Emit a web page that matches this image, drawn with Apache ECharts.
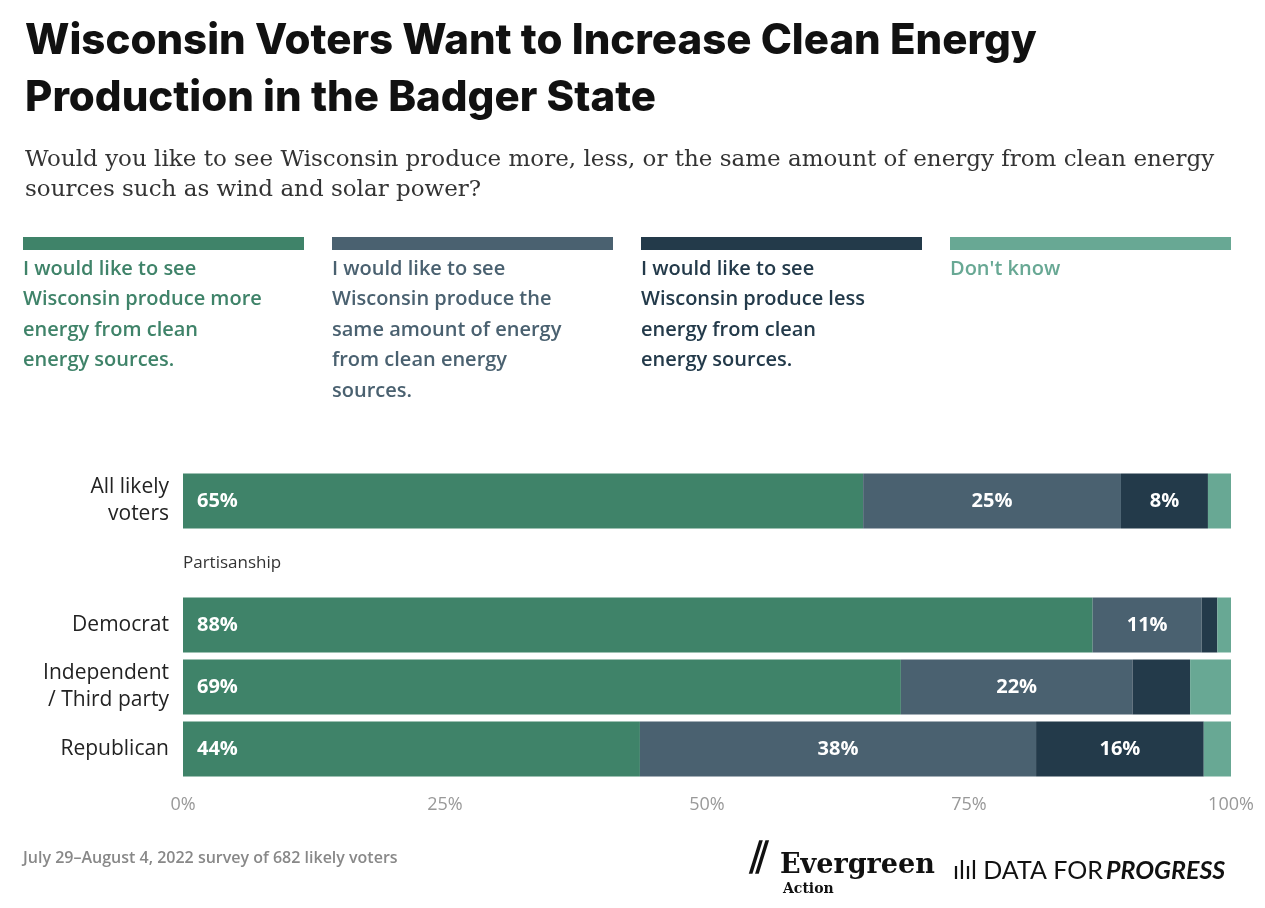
<!DOCTYPE html>
<html>
<head>
<meta charset="utf-8">
<script src="https://cdn.jsdelivr.net/npm/echarts@6/dist/echarts.min.js"></script>
<style>
  html, body { margin: 0; padding: 0; background: #fff; }
  #chart { width: 1265px; height: 908px; }
</style>
</head>
<body>
<div id="chart"></div>
<script>
// data
const categories = ["All likely\nvoters", "", "Democrat", "Independent\n/ Third party", "Republican"];
const seriesNames = [
  "I would like to see\nWisconsin produce more\nenergy from clean\nenergy sources.",
  "I would like to see\nWisconsin produce the\nsame amount of energy\nfrom clean energy\nsources.",
  "I would like to see\nWisconsin produce less\nenergy from clean\nenergy sources.",
  "Don't know"
];
const more = [64.9, null, 86.8, 68.5, 43.6];
const same = [24.6, null, 10.4, 22.1, 37.8];
const less = [8.3, null, 1.5, 5.5, 16.0];
const dontKnow = [2.2, null, 1.3, 3.9, 2.6];
const moreLabels = ["65%", "", "88%", "69%", "44%"];
const sameLabels = ["25%", "", "11%", "22%", "38%"];
const lessLabels = ["8%", "", "", "", "16%"];

const colors = ["#3f8369", "#4a6170", "#233a4a", "#68a894"];
const values = [more, same, less, dontKnow];
const labels = [moreLabels, sameLabels, lessLabels, null];

const font = "'Open Sans', Lato, sans-serif";
const chart = echarts.init(document.getElementById("chart"));

const series = values.map((arr, i) => ({
  name: seriesNames[i],
  type: "bar",
  stack: "total",
  barWidth: 55,
  data: arr,
  itemStyle: { color: colors[i] },
  label: {
    show: !!labels[i],
    position: i === 0 ? "insideLeft" : "inside",
    distance: 14,
    color: "#fff",
    fontSize: 20,
    fontWeight: "bold",
    fontFamily: font,
    formatter: p => labels[i] ? labels[i][p.dataIndex] : ""
  }
}));

// legend drawn as graphic blocks
const legendX = [23, 332, 641, 950];
const graphics = [];
legendX.forEach((x, i) => {
  graphics.push({ type: "rect", left: x, top: 237, shape: { width: 281, height: 13 }, style: { fill: colors[i] } });
  graphics.push({ type: "text", left: x, top: 254, style: {
    text: seriesNames[i], fill: colors[i], font: "600 20px " + font, lineHeight: 30.5 } });
});
graphics.push({ type: "text", left: 183, top: 555, style: { text: "Partisanship", fill: "#333", font: "17px " + font } });
graphics.push({ type: "text", left: 23, top: 850, style: { text: "July 29–August 4, 2022 survey of 682 likely voters", fill: "#888", font: "600 16px " + font } });
graphics.push({ type: "text", left: 750, top: 840, style: { text: "⫽", fill: "#111", font: "bold 42px serif" } });
graphics.push({ type: "text", left: 780, top: 852, style: { text: "Evergreen", fill: "#111", font: "bold 27px 'DejaVu Serif', serif" } });
graphics.push({ type: "text", left: 783, top: 882, style: { text: "Action", fill: "#111", font: "bold 14px 'DejaVu Serif', serif" } });
graphics.push({ type: "text", left: 953, top: 858, style: { text: "ılıl DATA FOR", fill: "#111", font: "25px Lato, sans-serif" } });
graphics.push({ type: "text", left: 1106, top: 858, style: { text: "PROGRESS", fill: "#111", font: "italic bold 25px Lato, sans-serif" } });

chart.setOption({
  animation: false,
  title: {
    text: "Wisconsin Voters Want to Increase Clean Energy\nProduction in the Badger State",
    subtext: "Would you like to see Wisconsin produce more, less, or the same amount of energy from clean energy\nsources such as wind and solar power?",
    left: 20, top: 8,
    itemGap: 18,
    textStyle: { fontSize: 42, fontWeight: 800, color: "#111", fontFamily: "Inter, Lato, sans-serif", lineHeight: 57 },
    subtextStyle: { fontSize: 23, color: "#333", fontFamily: "'DejaVu Serif', 'Liberation Serif', serif", lineHeight: 30 }
  },
  grid: { left: 183, right: 34, top: 470, bottom: 128 },
  xAxis: {
    type: "value", min: 0, max: 100, interval: 25,
    axisLabel: { formatter: v => v + "%", color: "#999", fontSize: 18, fontFamily: font, margin: 16 },
    splitLine: { show: false }, axisLine: { show: false }, axisTick: { show: false }
  },
  yAxis: {
    type: "category", inverse: true, data: categories,
    axisLine: { show: false }, axisTick: { show: false },
    axisLabel: { color: "#222", fontSize: 21, fontFamily: font, margin: 14, lineHeight: 27, align: "right" }
  },
  series: series,
  graphic: graphics
});
</script>
</body>
</html>
